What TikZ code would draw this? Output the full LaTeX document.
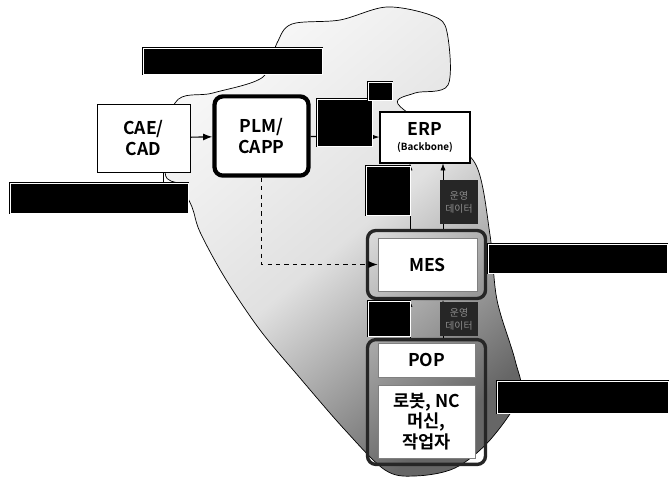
\documentclass[tikz,border=0pt]{standalone}
\usepackage{fontspec}
\setmainfont{Noto Sans CJK KR}
\newfontfamily\krbf{Noto Sans CJK KR Bold}
\usetikzlibrary{arrows.meta}

\begin{document}
\begin{tikzpicture}[>=Latex,x=0.025cm,y=-0.025cm]
  \tikzstyle{box}=[draw,fill=white,align=center,inner sep=1pt,font=\krbf\fontsize{12.5}{14.5}\selectfont]
  \tikzstyle{frame}=[draw=black!85,line width=2.4pt,rounded corners=6pt]
  \tikzstyle{tag}=[draw=black,double=white,double distance=0.6pt,fill=black,inner sep=0pt]
  \tikzstyle{opdata}=[fill=black!85,text=black!45,align=center,inner sep=0pt,font=\fontsize{7}{9}\selectfont]
  \useasboundingbox (0,0) rectangle (670,478);
  % shaded region
  \draw[line width=0.5pt,top color=black!3,bottom color=black!60,middle color=black!12,shading angle=40]
    plot[smooth cycle,tension=0.55] coordinates {(277,43) (292,24) (340,20) (387,7) (433,16) (447,32)
      (448,85) (415,93) (398,104) (440,135) (476,165) (490,235) (497,300) (515,360) (520,395)
      (490,440) (455,468) (415,476) (385,470) (345,430) (300,378) (260,330) (225,278) (200,232)
      (192,207) (180,185) (165,172) (175,103) (213,93) (263,77)};
  \node[box,minimum width=2.325cm,minimum height=1.7cm] (cae) at (143.5,138) {CAE/\\CAD};
  \node[box,line width=3pt,rounded corners=6pt,minimum width=2.35cm,minimum height=1.98cm] (plm) at (261.5,136) {PLM/\\CAPP};
  \node[box,line width=0.8pt,minimum width=2.25cm,minimum height=1.275cm] (erp) at (425,137.5)
    {ERP\\[-4pt]{\fontsize{7}{8}\selectfont(Backbone)}};
  \node[frame,minimum width=2.95cm,minimum height=1.7cm] (mesf) at (426.5,264.5) {};
  \node[box,draw=black!50,minimum width=2.475cm,minimum height=1.325cm] (mes) at (427.5,264.5) {MES};
  \node[frame,minimum width=2.95cm,minimum height=3.12cm] (popf) at (426.5,402) {};
  \node[box,draw=black!50,minimum width=2.425cm,minimum height=0.85cm] (pop) at (426.5,360) {POP};
  \node[box,draw=black!50,minimum width=2.425cm,minimum height=1.825cm] (robot) at (426.5,421.5) {로봇, NC\\머신,\\작업자};
  \coordinate (upL) at (410,0);
  \coordinate (upR) at (443,0);
  % connectors
  \draw[thick,->] (cae) -- (plm);
  \draw[thick,->] (plm) -- (erp);
  \draw[->] (mesf.north -| upL) -- (erp.south -| upL);
  \draw[->] (mesf.north -| upR) -- (erp.south -| upR);
  \draw[->] (popf.north -| upL) -- (mesf.south -| upL);
  \draw[->] (popf.north -| upR) -- (mesf.south -| upR);
  \draw[thick,dashed,->] (plm.south) |- (mes.west);
  % labels
  \node[tag,minimum width=1.375cm,minimum height=1.175cm] (tagA) at (344.5,122.5) {};
  \node[tag,minimum width=0.6cm,minimum height=0.45cm] (tagB) at (380,91) {};
  \node[tag,minimum width=1.1cm,minimum height=1.225cm] (tagC) at (388,190.5) {};
  \node[opdata,minimum width=0.95cm,minimum height=1.1cm] (op1) at (459,202) {운영\\데이터};
  \node[tag,minimum width=1.05cm,minimum height=0.875cm] (tagE) at (389,318.5) {};
  \node[opdata,minimum width=0.95cm,minimum height=0.85cm] (op2) at (459,319) {운영\\데이터};
  \node[tag,minimum width=4.475cm,minimum height=0.65cm] (tagG) at (232.5,61) {};
  \node[tag,minimum width=4.45cm,minimum height=0.75cm] (tagH) at (99,198) {};
  \node[tag,minimum width=4.475cm,minimum height=0.725cm] (tagD) at (577.5,258.5) {};
  \node[tag,minimum width=4.275cm,minimum height=0.8cm] (tagF) at (582.5,397) {};
  \draw ([xshift=0.5cm]cae.south) -- ([xshift=0.5cm]cae.south |- tagH.north);
\end{tikzpicture}
\end{document}
